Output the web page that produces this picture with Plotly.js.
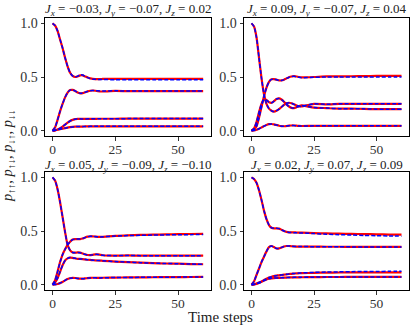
<!DOCTYPE html>
<html>
<head>
<meta charset="utf-8">
<script src="https://cdn.plot.ly/plotly-3.0.1.min.js"></script>
<style>
  html, body { margin: 0; padding: 0; background: #fff; }
  #chart { width: 415px; height: 330px; }
</style>
</head>
<body>
<div id="chart"></div>
<script>
// time axis shared by all four panels
const steps = [0, 1, 2, 3, 4, 5, 6, 7, 8, 9, 10, 11, 12, 13, 14, 15, 16, 17, 18, 19, 20, 25, 30, 35, 40, 45, 50, 55, 60];

// top-left: Jx=-0.03, Jy=-0.07, Jz=0.02
const tlA = [1.00, 0.98, 0.93, 0.85, 0.77, 0.68, 0.60, 0.54, 0.51, 0.50, 0.505, 0.515, 0.515, 0.505, 0.495, 0.487, 0.482, 0.481, 0.481, 0.481, 0.482, 0.482, 0.483, 0.483, 0.483, 0.483, 0.483, 0.483, 0.483];
const tlB = [0, 0.03, 0.10, 0.18, 0.25, 0.31, 0.355, 0.378, 0.38, 0.37, 0.355, 0.348, 0.35, 0.358, 0.366, 0.372, 0.374, 0.372, 0.368, 0.365, 0.365, 0.37, 0.368, 0.368, 0.368, 0.368, 0.368, 0.368, 0.368];
const tlC = [0, 0.003, 0.01, 0.022, 0.038, 0.056, 0.074, 0.09, 0.10, 0.107, 0.11, 0.11, 0.109, 0.109, 0.11, 0.11, 0.11, 0.11, 0.111, 0.111, 0.111, 0.111, 0.112, 0.112, 0.112, 0.112, 0.112, 0.112, 0.112];
const tlD = [0, 0.003, 0.008, 0.013, 0.018, 0.023, 0.028, 0.032, 0.035, 0.037, 0.038, 0.038, 0.038, 0.039, 0.039, 0.04, 0.04, 0.04, 0.04, 0.04, 0.04, 0.04, 0.04, 0.04, 0.04, 0.04, 0.04, 0.04, 0.04];
const tlAfit = [1.00, 0.98, 0.93, 0.85, 0.77, 0.68, 0.60, 0.54, 0.51, 0.502, 0.508, 0.52, 0.518, 0.506, 0.494, 0.485, 0.48, 0.478, 0.477, 0.476, 0.476, 0.475, 0.475, 0.475, 0.474, 0.474, 0.474, 0.474, 0.474];
const tlBfit = [0, 0.03, 0.10, 0.18, 0.25, 0.31, 0.355, 0.378, 0.38, 0.37, 0.355, 0.348, 0.35, 0.358, 0.366, 0.372, 0.374, 0.373, 0.371, 0.37, 0.37, 0.371, 0.37, 0.37, 0.37, 0.37, 0.37, 0.37, 0.37];

// top-right: Jx=0.09, Jy=-0.07, Jz=0.04
const trA = [1.00, 0.97, 0.87, 0.68, 0.49, 0.34, 0.25, 0.205, 0.185, 0.178, 0.185, 0.20, 0.22, 0.24, 0.255, 0.26, 0.255, 0.245, 0.235, 0.228, 0.226, 0.25, 0.245, 0.25, 0.25, 0.25, 0.25, 0.25, 0.25];
const trB = [0, 0.02, 0.08, 0.17, 0.25, 0.29, 0.285, 0.265, 0.26, 0.275, 0.295, 0.30, 0.29, 0.27, 0.245, 0.225, 0.212, 0.21, 0.218, 0.228, 0.235, 0.215, 0.21, 0.205, 0.205, 0.203, 0.20, 0.20, 0.20];
const trC = [0, 0.01, 0.04, 0.12, 0.22, 0.32, 0.40, 0.455, 0.478, 0.48, 0.475, 0.468, 0.468, 0.475, 0.487, 0.498, 0.505, 0.508, 0.505, 0.50, 0.497, 0.50, 0.505, 0.505, 0.507, 0.508, 0.51, 0.51, 0.51];
const trD = [0, 0.002, 0.008, 0.018, 0.03, 0.042, 0.053, 0.06, 0.062, 0.058, 0.052, 0.046, 0.042, 0.041, 0.043, 0.046, 0.048, 0.048, 0.046, 0.044, 0.043, 0.045, 0.045, 0.045, 0.045, 0.045, 0.045, 0.045, 0.045];
const trCfit = [0, 0.01, 0.04, 0.12, 0.22, 0.32, 0.40, 0.455, 0.478, 0.48, 0.475, 0.468, 0.468, 0.475, 0.487, 0.498, 0.505, 0.506, 0.502, 0.497, 0.494, 0.497, 0.50, 0.50, 0.50, 0.50, 0.50, 0.50, 0.50];

// bottom-left: Jx=0.05, Jy=-0.09, Jz=-0.10
const blA = [1.00, 0.97, 0.89, 0.77, 0.63, 0.49, 0.37, 0.32, 0.30, 0.298, 0.30, 0.298, 0.29, 0.282, 0.276, 0.275, 0.278, 0.282, 0.282, 0.278, 0.274, 0.27, 0.272, 0.27, 0.27, 0.27, 0.27, 0.27, 0.27];
const blB = [0, 0.04, 0.12, 0.21, 0.28, 0.33, 0.37, 0.40, 0.42, 0.425, 0.425, 0.425, 0.43, 0.44, 0.447, 0.45, 0.45, 0.448, 0.446, 0.445, 0.446, 0.455, 0.46, 0.463, 0.466, 0.468, 0.47, 0.472, 0.474];
const blC = [0, 0.02, 0.06, 0.12, 0.18, 0.225, 0.245, 0.252, 0.25, 0.245, 0.24, 0.24, 0.238, 0.235, 0.232, 0.23, 0.228, 0.226, 0.225, 0.224, 0.222, 0.215, 0.21, 0.205, 0.20, 0.197, 0.195, 0.192, 0.19];
const blD = [0, 0.002, 0.006, 0.014, 0.025, 0.04, 0.052, 0.06, 0.063, 0.062, 0.058, 0.056, 0.056, 0.058, 0.061, 0.063, 0.064, 0.064, 0.063, 0.063, 0.064, 0.066, 0.067, 0.068, 0.069, 0.07, 0.07, 0.071, 0.072];
const blBfit = [0, 0.04, 0.12, 0.21, 0.28, 0.33, 0.37, 0.40, 0.42, 0.425, 0.425, 0.425, 0.43, 0.44, 0.447, 0.45, 0.45, 0.448, 0.446, 0.445, 0.446, 0.453, 0.457, 0.46, 0.462, 0.464, 0.465, 0.466, 0.467];

// bottom-right: Jx=0.02, Jy=0.07, Jz=0.09
const brA = [1.00, 0.985, 0.95, 0.88, 0.79, 0.69, 0.61, 0.555, 0.53, 0.525, 0.525, 0.522, 0.512, 0.50, 0.492, 0.488, 0.487, 0.487, 0.486, 0.485, 0.484, 0.48, 0.477, 0.475, 0.473, 0.471, 0.469, 0.467, 0.466];
const brB = [0, 0.03, 0.09, 0.15, 0.21, 0.26, 0.31, 0.35, 0.36, 0.35, 0.337, 0.338, 0.347, 0.356, 0.36, 0.36, 0.358, 0.356, 0.355, 0.355, 0.355, 0.354, 0.353, 0.353, 0.352, 0.352, 0.352, 0.352, 0.352];
const brC = [0, 0.003, 0.01, 0.02, 0.03, 0.042, 0.055, 0.066, 0.074, 0.08, 0.084, 0.087, 0.09, 0.093, 0.096, 0.099, 0.101, 0.103, 0.105, 0.106, 0.107, 0.11, 0.112, 0.113, 0.114, 0.114, 0.115, 0.115, 0.115];
const brD = [0, 0.002, 0.007, 0.015, 0.026, 0.038, 0.048, 0.055, 0.059, 0.061, 0.062, 0.063, 0.064, 0.065, 0.066, 0.067, 0.067, 0.068, 0.068, 0.068, 0.069, 0.07, 0.071, 0.071, 0.072, 0.072, 0.072, 0.072, 0.072];
const brAfit = [1.00, 0.985, 0.95, 0.88, 0.79, 0.69, 0.61, 0.555, 0.53, 0.525, 0.525, 0.522, 0.512, 0.50, 0.492, 0.487, 0.485, 0.484, 0.483, 0.482, 0.482, 0.476, 0.47, 0.466, 0.462, 0.459, 0.456, 0.454, 0.452];
const brCfit = [0, 0.003, 0.01, 0.02, 0.03, 0.042, 0.055, 0.066, 0.074, 0.08, 0.084, 0.087, 0.09, 0.093, 0.096, 0.099, 0.102, 0.104, 0.106, 0.108, 0.109, 0.114, 0.117, 0.119, 0.121, 0.122, 0.123, 0.124, 0.125];

const panels = [
  { ax: '',  title: ['−0.03', '−0.07', '0.02'],  exact: [tlA, tlB, tlC, tlD], fit: [tlAfit, tlBfit, tlC, tlD] },
  { ax: '2', title: ['0.09', '−0.07', '0.04'],   exact: [trA, trB, trC, trD], fit: [trA, trB, trCfit, trD] },
  { ax: '3', title: ['0.05', '−0.09', '−0.10'],  exact: [blA, blB, blC, blD], fit: [blA, blBfit, blC, blD] },
  { ax: '4', title: ['0.02', '0.07', '0.09'],    exact: [brA, brB, brC, brD], fit: [brAfit, brB, brCfit, brD] }
];

const W = 415, H = 330;
// plot frames in pixels [left, right, top, bottom]
const frames = [[45, 210.7, 18, 136], [244, 409, 18, 136], [45, 210.7, 172, 290], [244, 409, 172, 290]];

const font = 'Liberation Serif';

const traces = [];
panels.forEach(p => {
  p.exact.forEach(ys => traces.push({
    x: steps, y: ys, xaxis: 'x' + p.ax, yaxis: 'y' + p.ax, type: 'scatter', mode: 'lines',
    line: { color: '#ff0000', width: 2.2, shape: 'spline', smoothing: 0.6 }, showlegend: false, hoverinfo: 'skip'
  }));
  p.fit.forEach(ys => traces.push({
    x: steps, y: ys, xaxis: 'x' + p.ax, yaxis: 'y' + p.ax, type: 'scatter', mode: 'lines',
    line: { color: '#0000ff', width: 1.5, dash: '4px,2px', shape: 'spline', smoothing: 0.6 }, showlegend: false, hoverinfo: 'skip'
  }));
});

const layout = {
  width: W, height: H,
  margin: { l: 0, r: 0, t: 0, b: 0 },
  paper_bgcolor: '#fff', plot_bgcolor: '#fff',
  font: { family: font, color: '#000' },
  annotations: []
};

panels.forEach((p, i) => {
  const [l, r, t, b] = frames[i];
  const common = {
    showline: true, mirror: true, linecolor: '#000', linewidth: 1,
    showgrid: false, zeroline: false,
    ticks: 'outside', ticklen: 3.5, tickwidth: 0.8, tickcolor: '#000',
    tickfont: { family: font, size: 14, color: '#333' }
  };
  layout['xaxis' + p.ax] = Object.assign({}, common, {
    domain: [l / W, r / W], anchor: 'y' + p.ax,
    range: [-3, 63], tickvals: [0, 25, 50],
    ticklabelstandoff: -3,
    tickfont: { family: font, size: 13.5, color: '#333' }
  });
  layout['yaxis' + p.ax] = Object.assign({}, common, {
    domain: [1 - b / H, 1 - t / H], anchor: 'x' + p.ax,
    range: [-0.05, 1.05], tickvals: [0, 0.5, 1], ticktext: ['0.0', '0.5', '1.0']
  });
  const [jx, jy, jz] = p.title;
  layout.annotations.push({
    xref: 'paper', yref: 'paper', x: (l + r) / 2 / W, y: 1 - t / H, yshift: i < 2 ? -2 : -4,
    xanchor: 'center', yanchor: 'bottom', showarrow: false,
    font: { family: font, size: 13, color: '#222' },
    text: `<i>J</i><sub><i>x</i></sub> = ${jx}, <i>J</i><sub><i>y</i></sub> = ${jy}, <i>J</i><sub><i>z</i></sub> = ${jz}`
  });
});

// shared axis labels
layout.annotations.push({
  xref: 'paper', yref: 'paper', x: 8 / W, y: 1 - 156 / H, textangle: -90,
  xanchor: 'center', yanchor: 'middle', showarrow: false,
  font: { family: font, size: 14.5, color: '#222' },
  text: '<i>p</i><sub>↑↑</sub>, <i>p</i><sub>↑↓</sub>, <i>p</i><sub>↓↑</sub>, <i>p</i><sub>↓↓</sub>'
});
layout.annotations.push({
  xref: 'paper', yref: 'paper', x: 220 / W, y: 1 - 317 / H,
  xanchor: 'center', yanchor: 'middle', showarrow: false,
  font: { family: font, size: 15, color: '#222' },
  text: 'Time steps'
});

Plotly.newPlot('chart', traces, layout, { displayModeBar: false, staticPlot: true });
</script>
</body>
</html>
